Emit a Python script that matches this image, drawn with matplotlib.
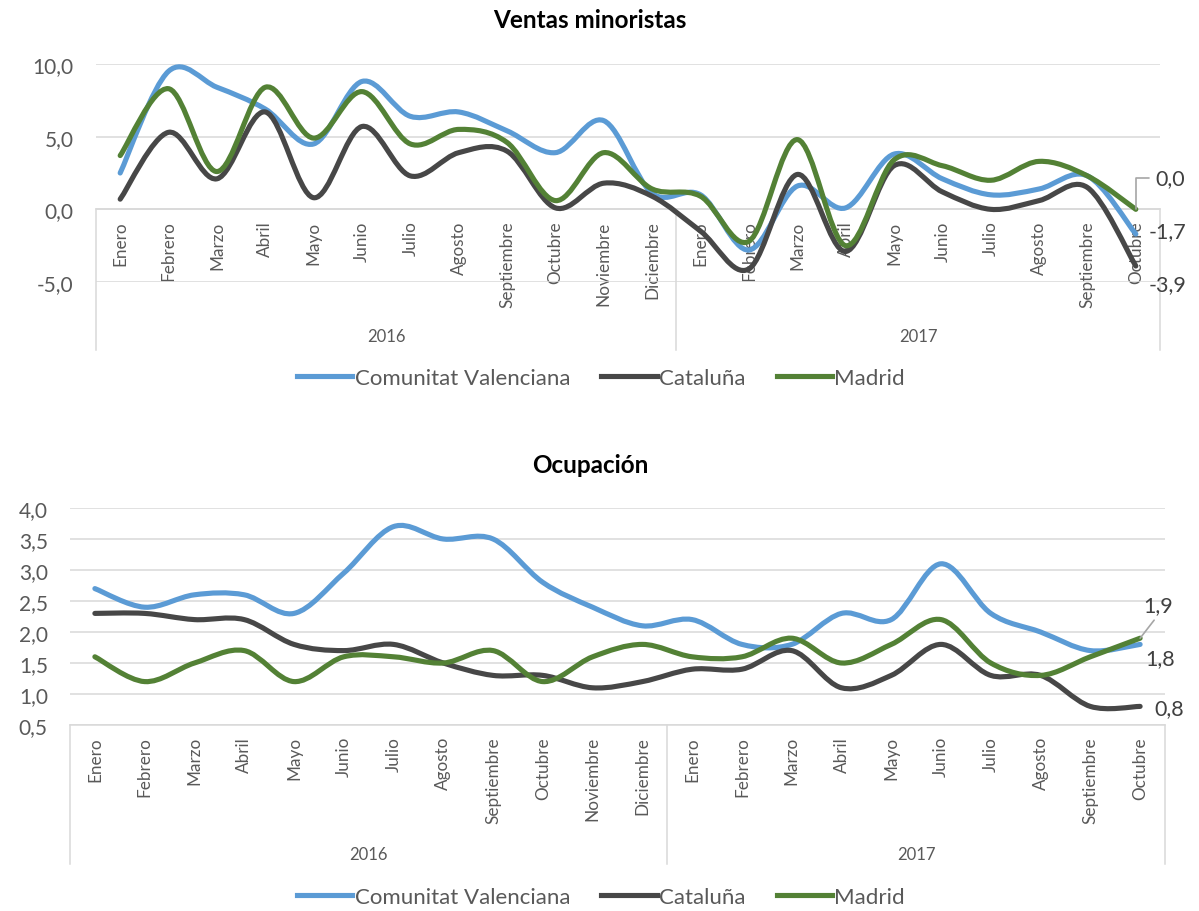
import matplotlib
matplotlib.use("Agg")
import matplotlib.pyplot as plt
from matplotlib.path import Path
from matplotlib.patches import PathPatch
from matplotlib.lines import Line2D
from matplotlib.ticker import FuncFormatter

plt.rcParams['font.family'] = ['Lato', 'DejaVu Sans']

# Datos
meses = ["Enero", "Febrero", "Marzo", "Abril", "Mayo", "Junio", "Julio", "Agosto",
         "Septiembre", "Octubre", "Noviembre", "Diciembre",
         "Enero", "Febrero", "Marzo", "Abril", "Mayo", "Junio", "Julio", "Agosto",
         "Septiembre", "Octubre"]
anios = ["2016", "2017"]
meses_por_anio = [12, 10]
series = ["Comunitat Valenciana", "Cataluña", "Madrid"]
colores = ["#5B9BD5", "#474747", "#538135"]

ventas_cv = [2.5, 9.5, 8.4, 6.9, 4.5, 8.8, 6.4, 6.7, 5.4, 3.9, 6.1, 1.1,
             1.0, -2.8, 1.6, 0.1, 3.8, 2.1, 1.0, 1.4, 2.3, -1.7]
ventas_cat = [0.7, 5.3, 2.1, 6.7, 0.8, 5.7, 2.3, 3.9, 4.0, 0.1, 1.8, 0.9,
              -1.5, -4.1, 2.4, -2.9, 3.0, 1.2, 0.0, 0.6, 1.5, -3.9]
ventas_mad = [3.7, 8.3, 2.6, 8.4, 4.9, 8.1, 4.5, 5.5, 4.6, 0.6, 3.9, 1.4,
              0.9, -2.2, 4.8, -2.5, 3.4, 3.0, 2.0, 3.3, 2.3, 0.0]

ocup_cv = [2.7, 2.4, 2.6, 2.6, 2.3, 2.95, 3.7, 3.5, 3.5, 2.8, 2.4, 2.1,
           2.2, 1.8, 1.8, 2.3, 2.2, 3.1, 2.3, 2.0, 1.7, 1.8]
ocup_cat = [2.3, 2.3, 2.2, 2.2, 1.8, 1.7, 1.8, 1.5, 1.3, 1.3, 1.1, 1.2,
            1.4, 1.4, 1.7, 1.1, 1.3, 1.8, 1.3, 1.3, 0.8, 0.8]
ocup_mad = [1.6, 1.2, 1.5, 1.7, 1.2, 1.6, 1.6, 1.5, 1.7, 1.2, 1.6, 1.8,
            1.6, 1.6, 1.9, 1.5, 1.8, 2.2, 1.5, 1.3, 1.6, 1.9]

GRIS_TXT = "#595959"
GRIS_LIN = "#D9D9D9"


def coma(v, pos=None):
    return f"{v:.1f}".replace(".", ",")


def curva_suave(ax, ys, color):
    # linea suavizada tipo Excel (Catmull-Rom -> Bezier)
    xs = list(range(len(ys)))
    n = len(xs)
    verts = [(xs[0], ys[0])]
    codes = [Path.MOVETO]
    for i in range(n - 1):
        a = i - 1 if i > 0 else i
        d = i + 2 if i + 2 < n else i + 1
        c1 = (xs[i] + (xs[i + 1] - xs[a]) / 6, ys[i] + (ys[i + 1] - ys[a]) / 6)
        c2 = (xs[i + 1] - (xs[d] - xs[i]) / 6, ys[i + 1] - (ys[d] - ys[i]) / 6)
        verts += [c1, c2, (xs[i + 1], ys[i + 1])]
        codes += [Path.CURVE4] * 3
    p = PathPatch(Path(verts, codes), fill=False, edgecolor=color, lw=3.7,
                  capstyle='round', joinstyle='round', zorder=3)
    ax.add_patch(p)


def montar_eje(ax, datos, ymin, ymax, paso, y_eje, y_sep, y_anio):
    for d, c in zip(datos, colores):
        curva_suave(ax, d, c)
    ax.set_xlim(-0.5, len(meses) - 0.5)
    ax.set_ylim(ymin, ymax)
    ticks = [ymin + paso * k for k in range(int(round((ymax - ymin) / paso)) + 1)]
    ax.set_yticks(ticks)
    ax.yaxis.set_major_formatter(FuncFormatter(coma))
    ax.grid(axis='y', color=GRIS_LIN, lw=1.1)
    ax.set_axisbelow(True)
    for s in ["top", "right", "left"]:
        ax.spines[s].set_visible(False)
    ax.spines["bottom"].set_position(("data", y_eje))
    ax.spines["bottom"].set_color(GRIS_LIN)
    ax.spines["bottom"].set_linewidth(1.1)
    ax.set_xticks(range(len(meses)))
    ax.set_xticklabels(meses, rotation=90, fontsize=12.3, color=GRIS_TXT, va='top')
    ax.tick_params(axis='x', length=0, pad=8)
    ax.tick_params(axis='y', length=0, pad=16, labelsize=15, labelcolor=GRIS_TXT)
    # separadores y años
    ini = 0
    bordes = [-0.5]
    for anio, n in zip(anios, meses_por_anio):
        ax.text(ini + (n - 1) / 2, y_anio, anio, ha='center', va='center',
                fontsize=12, color=GRIS_TXT)
        ini += n
        bordes.append(ini - 0.5)
    for b in bordes:
        ax.plot([b, b], [y_eje, y_sep], color=GRIS_LIN, lw=1.1, clip_on=False)


fig = plt.figure(figsize=(11.99, 9.12), dpi=100)

ax1 = fig.add_axes([96 / 1199, 1 - 283 / 912, (1160 - 96) / 1199, 218 / 912])
montar_eje(ax1, [ventas_cv, ventas_cat, ventas_mad], -5, 10, 5, 0, -9.66, -8.7)
fig.text(590 / 1199, 1 - 21 / 912, "Ventas minoristas", ha='center', va='center',
         fontsize=17.5, fontweight='bold')

ax2 = fig.add_axes([70 / 1199, 1 - 726 / 912, (1165 - 70) / 1199, 217 / 912])
montar_eje(ax2, [ocup_cv, ocup_cat, ocup_mad], 0.5, 4.0, 0.5, 0.5, -1.74, -1.58)
fig.text(590 / 1199, 1 - 466 / 912, "Ocupación", ha='center', va='center',
         fontsize=17.5, fontweight='bold')

# etiquetas de datos al final
u = len(meses) - 1
LBL = dict(fontsize=15.5, color="#404040", textcoords='offset pixels', va='center')
ax1.annotate(coma(ventas_mad[u]), xy=(u, ventas_mad[u]), xytext=(20, 31), ha='left',
             arrowprops=dict(arrowstyle='-', color='#A6A6A6', lw=1.2, relpos=(0, 0.5),
                             connectionstyle='angle,angleA=0,angleB=90,rad=0',
                             shrinkA=3, shrinkB=0), **LBL)
ax1.annotate(coma(ventas_cv[u]), xy=(u, ventas_cv[u]), xytext=(13, 3), ha='left', **LBL)
ax1.annotate(coma(ventas_cat[u]), xy=(u, ventas_cat[u]), xytext=(13, -18), ha='left', **LBL)

ax2.annotate(coma(ocup_mad[u]), xy=(u, ocup_mad[u]), xytext=(3, 33), ha='left',
             arrowprops=dict(arrowstyle='-', color='#A6A6A6', lw=1.2, relpos=(0.5, 0),
                             shrinkA=2, shrinkB=0), **LBL)
ax2.annotate(coma(ocup_cv[u]), xy=(u, ocup_cv[u]), xytext=(5, -14), ha='left', **LBL)
ax2.annotate(coma(ocup_cat[u]), xy=(u, ocup_cat[u]), xytext=(14, -2), ha='left', **LBL)

# leyendas
handles = [Line2D([], [], color=c, lw=3.7) for c in colores]
for ycen in [379, 898]:
    fig.legend(handles, series, loc='center', bbox_to_anchor=(601 / 1199, 1 - ycen / 912),
               ncol=3, frameon=False, fontsize=16, handlelength=2.5, handletextpad=0.1,
               columnspacing=1.4, labelcolor=GRIS_TXT)

fig.savefig("out.png", dpi=100)
